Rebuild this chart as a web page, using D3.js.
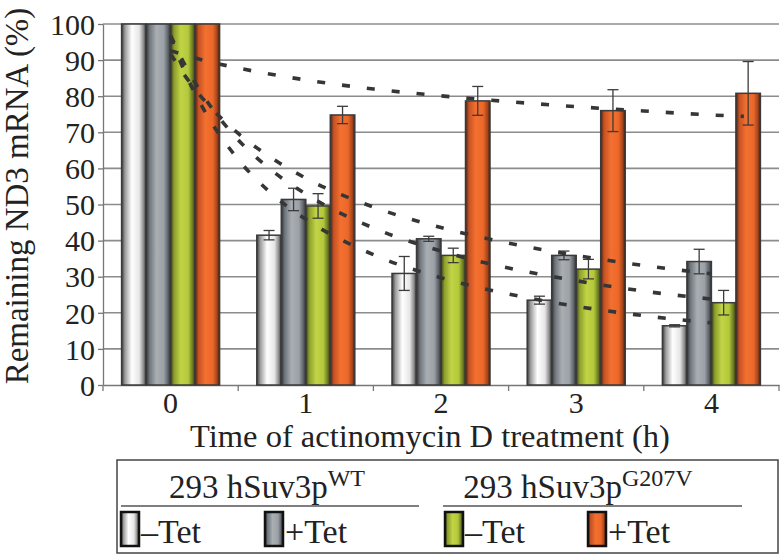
<!DOCTYPE html>
<html>
<head>
<meta charset="utf-8">
<script src="https://cdn.jsdelivr.net/npm/d3@7"></script>
<style>
body{margin:0;background:#fff;}
svg{display:block;}
</style>
</head>
<body>
<div id="chart"></div>
<script>
// time points (h)
var times = ["0","1","2","3","4"];
var yTicks = [0,10,20,30,40,50,60,70,80,90,100];

// remaining ND3 mRNA (%) per series
var wtMinusTet = [100, 41.5, 30.9, 23.5, 16.4];
var wtPlusTet = [100, 51.4, 40.5, 35.9, 34.2];
var mutMinusTet = [100, 49.6, 35.9, 32.1, 22.8];
var mutPlusTet = [100, 74.8, 78.7, 76.0, 80.8];

// error bar half heights
var wtMinusErr = [0, 1.3, 4.7, 1.1, 0.3];
var wtPlusErr = [0, 3.1, 0.7, 1.2, 3.4];
var mutMinusErr = [0, 3.4, 2.0, 2.7, 3.4];
var mutPlusErr = [0, 2.4, 4.0, 5.8, 8.8];

// dashed trend lines (x in hours)
var trendX = [0, 0.1, 0.25, 0.5, 0.75, 1, 1.5, 2, 2.5, 3, 3.5, 4];
var wtMinusTrend = [96.5, 87.1, 76.0, 62.5, 52.9, 45.9, 36.1, 29.7, 25.2, 21.8, 19.2, 17.2];
var wtPlusTrend = [91.7, 86.0, 78.8, 69.7, 62.8, 57.3, 49.3, 43.6, 39.3, 35.9, 33.1, 30.8];
var mutMinusTrend = [96.8, 89.1, 79.7, 67.9, 59.4, 52.9, 43.5, 37.1, 32.4, 28.9, 26.0, 23.8];
var mutPlusTrendX = [0, 0.25, 0.5, 1, 1.5, 2, 2.5, 3, 3.5, 4, 4.24];
var mutPlusTrend = [92.6, 89.9, 87.8, 84.5, 82.0, 80.1, 78.5, 77.1, 75.9, 74.8, 74.4];

var serif = "'Liberation Serif','Times New Roman',serif";

var series = [
	{key:"wtMinus", values:wtMinusTet, err:wtMinusErr, stops:["#3a3a3a","#9c9c9c","#ffffff","#e6e6e6","#8a8a8a","#333333"]},
	{key:"wtPlus", values:wtPlusTet, err:wtPlusErr, stops:["#303336","#6e757b","#a9aeb3","#9ca1a7","#5c6267","#2c3034"]},
	{key:"mutMinus", values:mutMinusTet, err:mutMinusErr, stops:["#363b1c","#8c9e2b","#c2d446","#b3c83a","#6a7822","#32371a"]},
	{key:"mutPlus", values:mutPlusTet, err:mutPlusErr, stops:["#462415","#c65223","#f37030","#ec6829","#a4441b","#381c12"]}
];
var trends = [
	{xs:trendX, ys:wtMinusTrend},
	{xs:trendX, ys:wtPlusTrend},
	{xs:trendX, ys:mutMinusTrend},
	{xs:mutPlusTrendX, ys:mutPlusTrend}
];

var width = 781, height = 558;
var svg = d3.select("#chart").append("svg")
	.attr("width",width)
	.attr("height",height)
	.style("font-family",serif);

var defs = svg.append("defs");
var stopPos = [0,0.14,0.42,0.72,0.9,1];
series.forEach(function(s){
	var g = defs.append("linearGradient")
		.attr("id","grad_"+s.key)
		.attr("x1","0").attr("x2","1").attr("y1","0").attr("y2","0");
	s.stops.forEach(function(c,i){
		g.append("stop").attr("offset",stopPos[i]).attr("stop-color",c);
	});
});

var plotLeft = 103, plotRight = 779, plotTop = 24, plotBottom = 385;

var x = d3.scaleBand()
	.domain(times)
	.range([plotLeft,plotRight]);

var x1 = d3.scaleBand()
	.domain(series.map(function(s){return s.key;}))
	.range([0,98]);

var groupOffset = (x.bandwidth()-98)/2;

var xc = d3.scaleLinear()
	.domain([0,4])
	.range([x("0")+x.bandwidth()/2, x("4")+x.bandwidth()/2]);

var y = d3.scaleLinear()
	.domain([0,100])
	.range([plotBottom,plotTop]);

// gridlines
svg.append("g").selectAll("line.grid")
	.data(yTicks.filter(function(d){return d>0;}))
	.enter()
	.append("line")
	.attr("class","grid")
	.attr("x1",plotLeft)
	.attr("x2",plotRight)
	.attr("y1",function(d){return y(d);})
	.attr("y2",function(d){return y(d);})
	.style("stroke","#8c8c8c")
	.style("stroke-width",1.6);

// y axis
var yAxis = svg.append("g")
	.attr("transform","translate("+plotLeft+",0)")
	.call(d3.axisLeft(y).tickValues(yTicks).tickSize(5).tickPadding(3).tickSizeOuter(0));
yAxis.attr("font-family",serif);
yAxis.select(".domain").style("stroke","#777").style("stroke-width",1.3);
yAxis.selectAll(".tick line").style("stroke","#777").style("stroke-width",1.3);
yAxis.selectAll(".tick text")
	.style("font-family",serif)
	.style("font-size","30px")
	.style("fill","#222")
	.attr("dy","0.34em");

// x axis
var xAxis = svg.append("g")
	.attr("transform","translate(0,"+plotBottom+")")
	.call(d3.axisBottom(x).tickSize(0).tickPadding(7).tickSizeOuter(0));
xAxis.attr("font-family",serif);
xAxis.select(".domain").style("stroke","#777").style("stroke-width",1.3);
xAxis.selectAll(".tick text")
	.style("font-family",serif)
	.style("font-size","30px")
	.style("fill","#222")
	.attr("dy","0.7em");
svg.append("g").selectAll("line.xtick")
	.data(times.concat(["end"]))
	.enter()
	.append("line")
	.attr("x1",function(d){return d=="end" ? plotRight : x(d);})
	.attr("x2",function(d){return d=="end" ? plotRight : x(d);})
	.attr("y1",plotBottom)
	.attr("y2",plotBottom+6)
	.style("stroke","#777")
	.style("stroke-width",1.3);

// bars
var groups = svg.append("g").selectAll("g.group")
	.data(times)
	.enter()
	.append("g")
	.attr("class","group")
	.attr("transform",function(d){return "translate("+(x(d)+groupOffset)+",0)";});

groups.selectAll("rect")
	.data(function(d,i){return series.map(function(s){return {key:s.key,value:s.values[i],err:s.err[i]};});})
	.enter()
	.append("rect")
	.attr("x",function(d){return x1(d.key);})
	.attr("width",x1.bandwidth())
	.attr("y",function(d){return y(d.value);})
	.attr("height",function(d){return y(0)-y(d.value);})
	.style("fill",function(d){return "url(#grad_"+d.key+")";})
	.style("stroke","#3a3a3a")
	.style("stroke-width",1.5);

// error bars
var errs = groups.selectAll("g.err")
	.data(function(d,i){return series.map(function(s){return {key:s.key,value:s.values[i],err:s.err[i]};}).filter(function(e){return e.err>0;});})
	.enter()
	.append("g")
	.attr("class","err")
	.style("stroke","#3c3c3c")
	.style("stroke-width",1.3);
errs.append("line")
	.attr("x1",function(d){return x1(d.key)+x1.bandwidth()/2;})
	.attr("x2",function(d){return x1(d.key)+x1.bandwidth()/2;})
	.attr("y1",function(d){return y(d.value+d.err);})
	.attr("y2",function(d){return y(d.value-d.err);});
errs.append("line")
	.attr("x1",function(d){return x1(d.key)+x1.bandwidth()/2-5.5;})
	.attr("x2",function(d){return x1(d.key)+x1.bandwidth()/2+5.5;})
	.attr("y1",function(d){return y(d.value+d.err);})
	.attr("y2",function(d){return y(d.value+d.err);});
errs.append("line")
	.attr("x1",function(d){return x1(d.key)+x1.bandwidth()/2-5.5;})
	.attr("x2",function(d){return x1(d.key)+x1.bandwidth()/2+5.5;})
	.attr("y1",function(d){return y(d.value-d.err);})
	.attr("y2",function(d){return y(d.value-d.err);});

// trend lines
var trendLine = d3.line()
	.x(function(d){return xc(d[0]);})
	.y(function(d){return y(d[1]);})
	.curve(d3.curveMonotoneX);
svg.append("g").selectAll("path.trend")
	.data(trends)
	.enter()
	.append("path")
	.attr("class","trend")
	.attr("d",function(t){return trendLine(t.xs.map(function(v,i){return [v,t.ys[i]];}));})
	.style("fill","none")
	.style("stroke","#363636")
	.style("stroke-width",3.6)
	.style("stroke-dasharray","8,17");

// axis titles
svg.append("text")
	.attr("transform","translate(28,196) rotate(-90)")
	.attr("text-anchor","middle")
	.style("font-size","33px")
	.style("fill","#222")
	.text("Remaining ND3 mRNA (%)");
svg.append("text")
	.attr("x",430)
	.attr("y",447)
	.attr("text-anchor","middle")
	.style("font-size","32.5px")
	.style("fill","#222")
	.text("Time of actinomycin D treatment (h)");

// legend
var legend = svg.append("g");
legend.append("rect")
	.attr("x",117)
	.attr("y",460)
	.attr("width",661)
	.attr("height",93)
	.style("fill","#fff")
	.style("stroke","#444")
	.style("stroke-width",1.5);

var legendGroups = [
	{label:"293 hSuv3p", sup:"WT", cx:267, x0:121, x1:419},
	{label:"293 hSuv3p", sup:"G207V", cx:578, x0:443, x1:742}
];
legendGroups.forEach(function(g){
	var t = legend.append("text")
		.attr("x",g.cx)
		.attr("y",498)
		.attr("text-anchor","middle")
		.style("font-size","33px")
		.style("fill","#222");
	t.append("tspan").text(g.label);
	t.append("tspan").attr("dy",-12).style("font-size","24px").text(g.sup);
	legend.append("line")
		.attr("x1",g.x0).attr("x2",g.x1)
		.attr("y1",506).attr("y2",506)
		.style("stroke","#555")
		.style("stroke-width",1.5);
});

var legendItems = [
	{key:"wtMinus", label:"\u2013Tet", x:121},
	{key:"wtPlus", label:"+Tet", x:265},
	{key:"mutMinus", label:"\u2013Tet", x:445},
	{key:"mutPlus", label:"+Tet", x:588}
];
legendItems.forEach(function(d){
	legend.append("rect")
		.attr("x",d.x)
		.attr("y",512)
		.attr("width",18)
		.attr("height",34)
		.style("fill","url(#grad_"+d.key+")")
		.style("stroke","#111")
		.style("stroke-width",2.5);
	legend.append("text")
		.attr("x",d.x+20)
		.attr("y",543)
		.style("font-size","34px")
		.style("fill","#222")
		.text(d.label);
});
</script>
</body>
</html>
